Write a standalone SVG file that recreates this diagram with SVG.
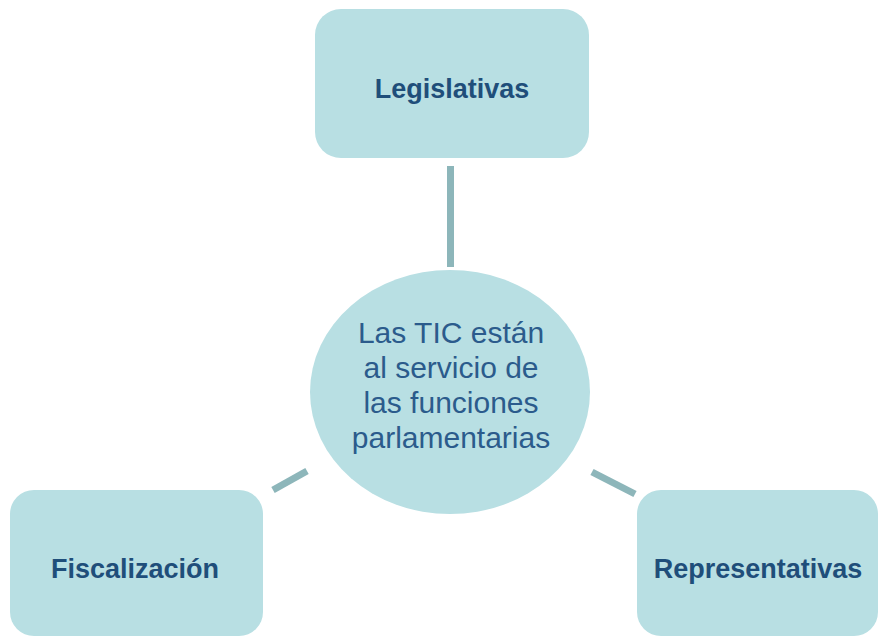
<svg xmlns="http://www.w3.org/2000/svg" width="879" height="638" viewBox="0 0 879 638">
<style>
.box{fill:#b8dfe3;}
.lbl{font-family:"Liberation Sans",Arial,sans-serif;font-weight:bold;font-size:27px;fill:#1f4e7a;text-anchor:middle;}
.ctr{font-family:"Liberation Sans",Arial,sans-serif;font-size:30px;fill:#2b5b8c;text-anchor:middle;}
.con{stroke:#8db6ba;stroke-width:7;fill:none;}
</style>
<rect width="879" height="638" fill="#ffffff"/>
<g id="connectors">
<line class="con" x1="450.5" y1="166" x2="450.5" y2="267"/>
<line class="con" x1="273" y1="490" x2="307" y2="471"/>
<line class="con" x1="592" y1="472" x2="635" y2="494"/>
</g>
<g id="legislativas">
<rect class="box" x="315" y="9" width="274" height="149" rx="26"/>
<text class="lbl" x="452" y="98">Legislativas</text>
</g>
<g id="center">
<ellipse class="box" cx="450" cy="392" rx="140" ry="122"/>
<text class="ctr" x="451" y="343">Las TIC están</text>
<text class="ctr" x="451" y="378">al servicio de</text>
<text class="ctr" x="451" y="413">las funciones</text>
<text class="ctr" x="451" y="448">parlamentarias</text>
</g>
<g id="fiscalizacion">
<rect class="box" x="10" y="490" width="253" height="146" rx="24"/>
<text class="lbl" x="135" y="578">Fiscalización</text>
</g>
<g id="representativas">
<rect class="box" x="637" y="490" width="241" height="146" rx="24"/>
<text class="lbl" x="758" y="578">Representativas</text>
</g>
</svg>
